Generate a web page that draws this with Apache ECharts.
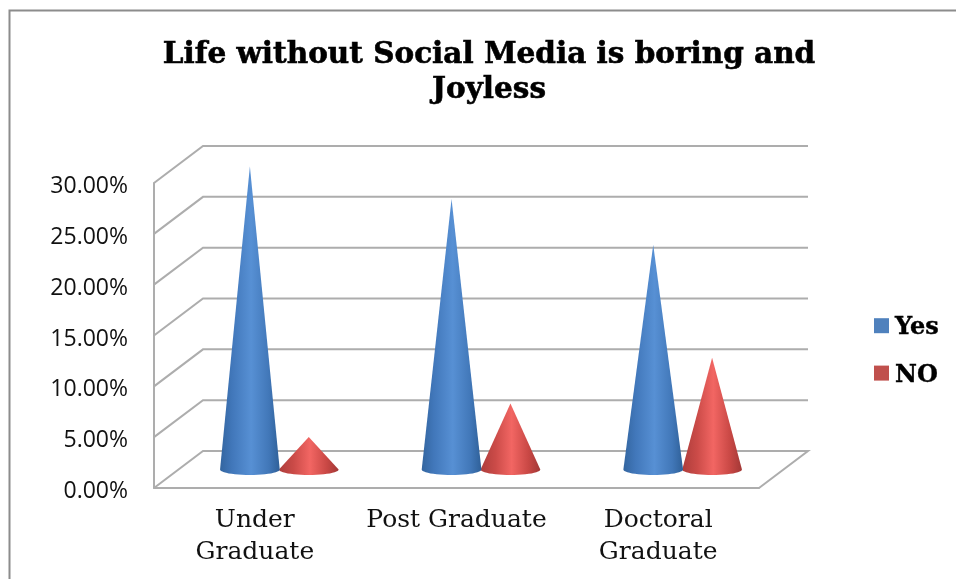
<!DOCTYPE html>
<html>
<head>
<meta charset="utf-8">
<title>Life without Social Media is boring and Joyless</title>
<style>
  html, body { margin: 0; padding: 0; background: #fff; }
  #chart { width: 956px; height: 579px; }
</style>
<script src="https://cdn.jsdelivr.net/npm/echarts@6/dist/echarts.min.js"></script>
</head>
<body>
<div id="chart"></div>
<script>
// Chart data (percent of respondents)
const categories = ['Under\nGraduate', 'Post Graduate', 'Doctoral\nGraduate'];
const yesValues = [29.8, 26.6, 22.1];
const noValues = [3.2, 6.5, 11.0];
const tickValues = [0, 5, 10, 15, 20, 25, 30];

// Oblique depth of the pseudo-3D box, in pixels
const DEPTH_X = 49;
const DEPTH_Y = 37;
const BOX_LINE = '#adadad';

const chart = echarts.init(document.getElementById('chart'), null, { renderer: 'canvas' });

// Side-wall diagonals and back-wall lines for one tick; the zero tick closes the floor
function renderWallLine(params, api) {
  const box = params.coordSys;
  const v = api.value(1);
  const y = api.coord([0, v])[1];
  const left = box.x, right = box.x + box.width;
  const pts = [[left, y], [left + DEPTH_X, y - DEPTH_Y], [right + DEPTH_X, y - DEPTH_Y]];
  if (v === 0) pts.push([right, y]);
  return {
    type: 'polyline',
    shape: { points: pts },
    style: { stroke: BOX_LINE, lineWidth: 2, fill: null },
    silent: true
  };
}

// A cone standing on the middle of the floor, lit from the front
function coneRenderer(side, stops) {
  return function (params, api) {
    const band = api.size([1, 0])[0];
    const rx = band * 0.148;
    const ry = 5.5;
    const tip = api.coord([api.value(0), api.value(1)]);
    const base = api.coord([api.value(0), 0]);
    const cx = base[0] + DEPTH_X / 2 + side * band * 0.146;
    const dy = DEPTH_Y / 2;
    const by = base[1] - dy;
    const pts = [[cx, tip[1] - dy]];
    for (let k = 0; k <= 24; k++) {
      const a = Math.PI * k / 24;
      pts.push([cx + rx * Math.cos(a), by + ry * Math.sin(a)]);
    }
    return {
      type: 'polygon',
      shape: { points: pts },
      style: { fill: new echarts.graphic.LinearGradient(0, 0, 1, 0, stops) }
    };
  };
}

const blueStops = [
  { offset: 0, color: '#33659f' },
  { offset: 0.2, color: '#4177ba' },
  { offset: 0.52, color: '#5790d4' },
  { offset: 0.82, color: '#4177b8' },
  { offset: 1, color: '#2f6098' }
];
const redStops = [
  { offset: 0, color: '#ad3d3b' },
  { offset: 0.25, color: '#cb4b48' },
  { offset: 0.52, color: '#f26663' },
  { offset: 0.8, color: '#c94845' },
  { offset: 1, color: '#a23836' }
];

chart.setOption({
  animation: false,
  backgroundColor: '#ffffff',
  title: {
    text: 'Life without Social Media is boring and\nJoyless',
    left: 484,
    top: 33,
    textAlign: 'center',
    textStyle: {
      fontFamily: 'DejaVu Serif',
      fontWeight: 'bold',
      fontSize: 29.5,
      lineHeight: 35,
      color: '#000',
      textBorderColor: '#000',
      textBorderWidth: 0.6
    }
  },
  legend: {
    orient: 'vertical',
    left: 869,
    top: 311,
    itemWidth: 15,
    itemHeight: 15,
    itemGap: 23,
    icon: 'rect',
    data: ['Yes', 'NO'],
    formatter: (name) => '{t|' + name + '}',
    textStyle: {
      rich: {
        t: {
          fontFamily: 'DejaVu Serif',
          fontWeight: 'bold',
          fontSize: 24,
          color: '#000',
          padding: [5, 0, 0, 1],
          textBorderColor: '#000',
          textBorderWidth: 0.4
        }
      }
    }
  },
  grid: { left: 154, top: 183, width: 605, height: 305, containLabel: false },
  xAxis: {
    type: 'category',
    data: categories,
    axisLine: { show: true, lineStyle: { color: BOX_LINE, width: 2 } },
    axisTick: { show: false },
    axisLabel: {
      margin: 16,
      interval: 0,
      fontFamily: 'DejaVu Serif',
      fontSize: 25,
      lineHeight: 32,
      color: '#111'
    }
  },
  yAxis: {
    type: 'value',
    min: 0,
    max: 30,
    interval: 5,
    axisLine: { show: true, lineStyle: { color: BOX_LINE, width: 2 } },
    axisTick: { show: false },
    splitLine: { show: false },
    axisLabel: {
      margin: 26,
      formatter: (v) => '{t|' + v.toFixed(2) + '%}',
      rich: {
        t: {
          fontFamily: 'Open Sans',
          fontSize: 23,
          color: '#111',
          padding: [7, 0, 0, 0]
        }
      }
    }
  },
  series: [
    {
      type: 'custom',
      name: 'box',
      renderItem: renderWallLine,
      clip: false,
      silent: true,
      data: tickValues.map((v) => [0, v]),
      encode: { x: 0, y: 1 },
      z: 1
    },
    {
      type: 'custom',
      name: 'Yes',
      renderItem: coneRenderer(-1, blueStops),
      clip: false,
      itemStyle: { color: '#4f81bd' },
      data: yesValues.map((v, i) => [i, v]),
      encode: { x: 0, y: 1 },
      z: 3
    },
    {
      type: 'custom',
      name: 'NO',
      renderItem: coneRenderer(1, redStops),
      clip: false,
      itemStyle: { color: '#c0504d' },
      data: noValues.map((v, i) => [i, v]),
      encode: { x: 0, y: 1 },
      z: 2
    }
  ],
  graphic: [
    // Outer chart frame: top and left edges only
    {
      type: 'polyline',
      shape: { points: [[9.5, 579], [9.5, 10.5], [956, 10.5]] },
      style: { stroke: '#8c8c8c', lineWidth: 2, fill: null },
      silent: true
    }
  ]
});
</script>
</body>
</html>
